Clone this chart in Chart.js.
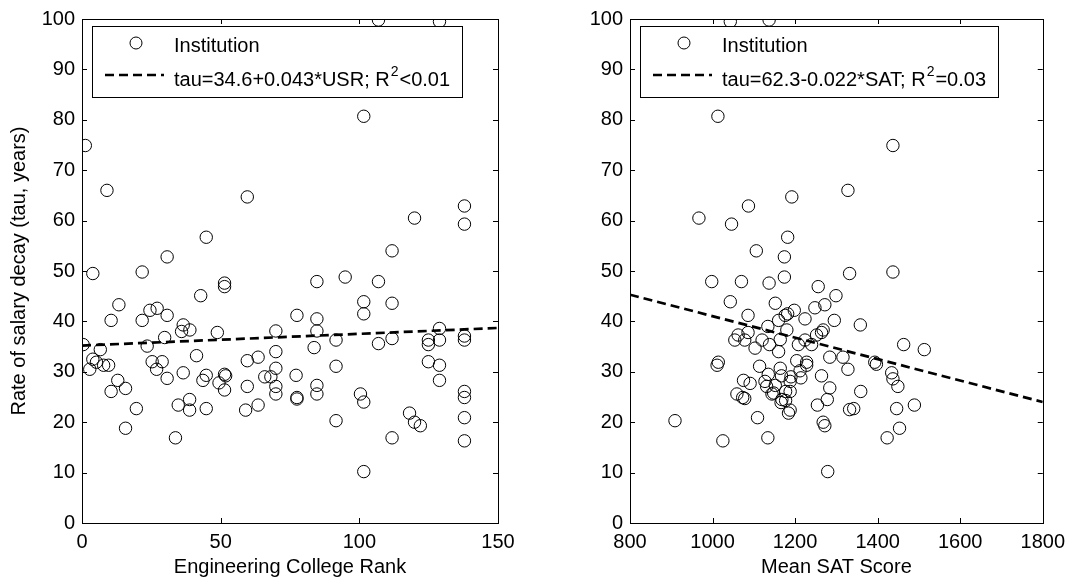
<!DOCTYPE html>
<html lang="en">
<head>
  <meta charset="UTF-8">
  <title>Salary decay vs rank and SAT</title>
  <script src="https://cdn.jsdelivr.net/npm/chart.js"></script>
  <style>
    body { margin: 0; background: #fff; }
    #wrap { position: relative; width: 1072px; height: 579px; }
    canvas { position: absolute; top: 0; }
  </style>
</head>
<body>
  <div id="wrap">
    <canvas id="rankChart" width="536" height="579" style="left:0"></canvas>
    <canvas id="satChart" width="536" height="579" style="left:536px"></canvas>
  </div>

  <script>
    // Left panel: engineering college rank vs tau
    const rankX = [1.2, 9.0, 59.6, 137.9, 137.9, 119.9, 44.8, 111.8, 30.7, 3.9, 21.7, 94.9, 84.7, 106.9, 51.4, 51.4,
      42.8, 101.6, 111.8, 13.3, 24.5, 27.1, 30.7, 77.5, 101.6, 10.5, 21.7, 84.7, 36.5, 35.9, 38.9, 128.9,
      48.8, 69.9, 84.7, 29.8, 137.9, 137.9, 128.9, 124.9, 124.9, 91.6, 111.8, 106.9, 0.4, 23.5, 6.6, 83.7,
      69.9, 41.3, 3.9, 5.2, 7.8, 9.6, 25.3, 28.9, 26.9, 2.8, 59.6, 63.5, 91.6, 69.9, 124.9, 128.9,
      36.5, 44.8, 43.6, 30.7, 51.4, 51.8, 49.4, 51.4, 12.9, 10.5, 15.7, 65.9, 68.1, 77.2, 59.6, 69.9,
      69.9, 84.7, 84.7, 77.5, 77.5, 128.9, 100.4, 101.6, 137.9, 137.9, 137.9, 137.9, 19.6, 34.7, 38.8, 38.8,
      44.8, 59.0, 63.5, 15.7, 33.7, 91.6, 111.8, 101.6, 118.1, 119.9, 122.0, 106.9, 128.9, 101.6];
    const rankTau = [74.9, 66.0, 64.7, 62.9, 59.3, 60.5, 56.7, 54.0, 52.8, 49.5, 49.8, 48.8, 47.9, 47.9, 47.6, 46.9,
      45.1, 43.9, 43.6, 43.3, 42.2, 42.6, 41.2, 41.2, 41.5, 40.2, 40.2, 40.5, 39.3, 38.0, 38.3, 38.6,
      37.8, 38.1, 38.1, 36.8, 37.1, 36.3, 36.3, 36.3, 35.4, 36.3, 36.6, 35.6, 35.4, 35.1, 34.4, 34.8,
      34.0, 33.2, 32.5, 31.9, 31.3, 31.3, 32.0, 32.0, 30.5, 30.5, 32.2, 32.9, 31.1, 30.7, 32.0, 31.3,
      29.8, 29.3, 28.3, 28.7, 29.5, 29.2, 27.8, 26.4, 28.3, 26.1, 26.7, 29.0, 29.0, 29.3, 27.1, 27.1,
      25.6, 27.3, 25.6, 24.9, 24.6, 28.3, 25.6, 24.0, 26.1, 24.9, 20.9, 16.3, 22.7, 23.4, 24.5, 22.4,
      22.7, 22.4, 23.4, 18.8, 16.9, 20.3, 16.9, 10.2, 21.8, 20.0, 19.3, 99.8, 99.5, 80.7];
    const rankFitX = [0, 150];
    const rankFitTau = [35.2, 38.7];

    // Right panel: mean SAT score vs tau
    const satX = [1043, 1137, 1013, 1437, 1328, 1192, 1087, 967, 1046, 1182, 1106, 1174, 1332, 1437, 998, 1070,
      1137, 1174, 1256, 1299, 1043, 1152, 1272, 1248, 1198, 1182, 1176, 1086, 1224, 1295, 1160, 1358,
      1134, 1180, 1268, 1264, 1086, 1062, 1054, 1078, 1120, 1164, 1224, 1252, 1463, 1513, 1138, 1208,
      1240, 1103, 1160, 1284, 1316, 1204, 1228, 1228, 1393, 1397, 1014, 1011, 1114, 1328, 1164, 1212,
      1434, 1437, 1449, 1135, 1167, 1190, 1264, 1075, 1091, 1127, 1131, 1152, 1188, 1214, 1284, 1177,
      1148, 1188, 1359, 1059, 1073, 1078, 1144, 1168, 1177, 1166, 1278, 1254, 1188, 1184, 1332, 1342,
      1446, 1489, 909, 1109, 1268, 1272, 1025, 1134, 1423, 1453, 1279];
    const satTau = [99.5, 99.8, 80.7, 74.9, 66.0, 64.7, 62.9, 60.5, 59.3, 56.7, 54.0, 52.8, 49.5, 49.8, 47.9, 47.9,
      47.6, 48.8, 46.9, 45.1, 43.9, 43.6, 43.3, 42.7, 42.2, 41.5, 41.2, 41.2, 40.5, 40.2, 40.2, 39.3,
      39.0, 38.3, 38.3, 37.8, 37.8, 37.3, 36.3, 36.3, 36.3, 36.4, 36.3, 37.3, 35.4, 34.4, 35.4, 35.4,
      35.4, 34.7, 34.0, 32.9, 32.9, 32.2, 31.9, 31.3, 31.9, 31.5, 31.9, 31.3, 31.1, 30.5, 30.7, 30.2,
      29.8, 28.6, 27.1, 29.5, 29.2, 29.0, 29.2, 28.3, 27.7, 28.1, 27.1, 27.3, 28.1, 28.8, 26.8, 26.1,
      25.8, 26.1, 26.1, 25.6, 24.9, 24.7, 25.6, 24.5, 24.3, 23.9, 24.5, 23.4, 22.4, 21.8, 22.5, 22.7,
      22.7, 23.4, 20.3, 20.9, 20.0, 19.3, 16.3, 16.9, 16.9, 18.8, 10.2];
    const satFitX = [800, 1800];
    const satFitTau = [45.3, 24.0];

    const rankTicks = [0, 50, 100, 150];
    const satTicks = [800, 1000, 1200, 1400, 1600, 1800];
    const tauTicks = [0, 10, 20, 30, 40, 50, 60, 70, 80, 90, 100];

    const FONT = '"Liberation Sans", Arial, sans-serif';
    const FS = 20;

    function toPoints(xs, ys) {
      return xs.map((x, i) => ({ x: x, y: ys[i] }));
    }

    // MATLAB-like box, inward ticks and legend
    const boxPlugin = {
      id: 'box',
      afterDraw(chart, args, opts) {
        const ctx = chart.ctx;
        const a = chart.chartArea;
        const xs = chart.scales.x, ys = chart.scales.y;
        ctx.save();
        ctx.strokeStyle = '#000';
        ctx.lineWidth = 1;
        ctx.strokeRect(Math.round(a.left) + 0.5, Math.round(a.top) + 0.5,
          Math.round(a.right - a.left), Math.round(a.bottom - a.top));
        ctx.beginPath();
        opts.xTicks.forEach(v => {
          const px = Math.round(xs.getPixelForValue(v)) + 0.5;
          ctx.moveTo(px, a.bottom); ctx.lineTo(px, a.bottom - 5);
          ctx.moveTo(px, a.top); ctx.lineTo(px, a.top + 5);
        });
        tauTicks.forEach(v => {
          const py = Math.round(ys.getPixelForValue(v)) + 0.5;
          ctx.moveTo(a.left, py); ctx.lineTo(a.left + 5, py);
          ctx.moveTo(a.right, py); ctx.lineTo(a.right - 5, py);
        });
        ctx.stroke();

        // legend text widths decide the box width
        const lx = Math.round(a.left) + 10, ly = 26;
        const tx = lx + 82;
        const main = opts.fitLabel[0];
        ctx.font = FS + 'px ' + FONT;
        const w1 = ctx.measureText(main).width;
        const w3 = ctx.measureText(opts.fitLabel[1]).width;
        ctx.font = Math.round(FS * 0.7) + 'px ' + FONT;
        const w2 = ctx.measureText('2').width + 1;
        const boxW = Math.round(82 + w1 + 1 + w2 + w3 + 12);

        ctx.fillStyle = '#fff';
        ctx.fillRect(lx, ly, boxW, 71);
        ctx.strokeRect(lx + 0.5, ly + 0.5, boxW, 71);

        ctx.beginPath();
        ctx.arc(lx + 44, ly + 17, 6, 0, Math.PI * 2);
        ctx.stroke();

        ctx.beginPath();
        ctx.lineWidth = 2.5;
        ctx.setLineDash([9, 5]);
        ctx.moveTo(lx + 13, ly + 49);
        ctx.lineTo(lx + 72, ly + 49);
        ctx.stroke();
        ctx.setLineDash([]);

        ctx.fillStyle = '#000';
        ctx.textBaseline = 'middle';
        ctx.font = FS + 'px ' + FONT;
        ctx.fillText('Institution', tx, ly + 20);
        ctx.fillText(main, tx, ly + 54);
        ctx.font = Math.round(FS * 0.7) + 'px ' + FONT;
        ctx.fillText('2', tx + w1 + 1, ly + 46);
        ctx.font = FS + 'px ' + FONT;
        ctx.fillText(opts.fitLabel[1], tx + w1 + 1 + w2, ly + 54);
        ctx.restore();
      }
    };

    function makeChart(id, pts, fit, xMin, xMax, xStep, xTitle, yTitle, yWidth, rightPad, fitLabel, xTicks) {
      const ctx = document.getElementById(id).getContext('2d');
      return new Chart(ctx, {
        type: 'scatter',
        data: {
          datasets: [{
            data: pts,
            pointStyle: 'circle',
            pointRadius: 6.2,
            borderWidth: 1,
            borderColor: '#000',
            backgroundColor: 'rgba(0,0,0,0)'
          }, {
            data: fit,
            showLine: true,
            pointRadius: 0,
            borderColor: '#000',
            borderWidth: 2.7,
            borderDash: [9, 5]
          }]
        },
        options: {
          responsive: false,
          animation: false,
          devicePixelRatio: 1,
          layout: { padding: { left: 0, right: rightPad, top: 15, bottom: 0 } },
          plugins: {
            legend: { display: false },
            tooltip: { enabled: false },
            box: { xTicks: xTicks, fitLabel: fitLabel }
          },
          scales: {
            x: {
              type: 'linear',
              min: xMin, max: xMax,
              grid: { display: false, drawTicks: false },
              border: { display: false },
              ticks: { stepSize: xStep, padding: 7, color: '#000', font: { family: FONT, size: FS },
                callback: v => String(v) },
              title: { display: true, text: xTitle, color: '#000', padding: { top: 0, bottom: 0 },
                font: { family: FONT, size: FS } },
              afterFit: s => { s.height = 56; }
            },
            y: {
              min: 0, max: 100,
              grid: { display: false, drawTicks: false },
              border: { display: false },
              ticks: { stepSize: 10, padding: 7, color: '#000', font: { family: FONT, size: FS },
                callback: v => String(v) },
              title: { display: !!yTitle, text: yTitle, color: '#000', padding: { top: 7, bottom: 0 },
                font: { family: FONT, size: FS } },
              afterFit: s => { s.width = yWidth; }
            }
          }
        },
        plugins: [boxPlugin]
      });
    }

    window.onload = function () {
      makeChart('rankChart', toPoints(rankX, rankTau), toPoints(rankFitX, rankFitTau),
        0, 150, 50, 'Engineering College Rank', 'Rate of salary decay (tau, years)',
        82, 38, ['tau=34.6+0.043*USR; R', '<0.01'], rankTicks);
      makeChart('satChart', toPoints(satX, satTau), toPoints(satFitX, satFitTau),
        800, 1800, 200, 'Mean SAT Score', '',
        94, 25, ['tau=62.3-0.022*SAT; R', '=0.03'], satTicks);
    };
  </script>
</body>
</html>
